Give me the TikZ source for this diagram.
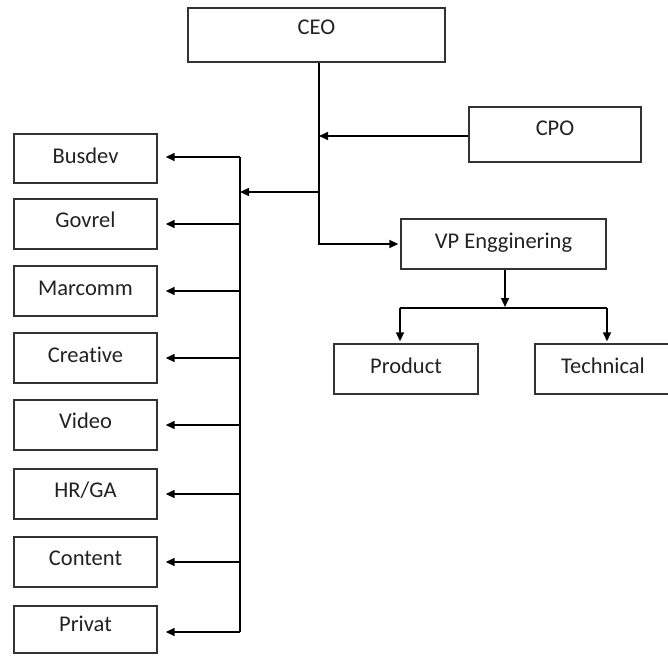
\documentclass[tikz,border=0pt]{standalone}
\usepackage{fontspec}
\setmainfont[Ligatures=NoCommon]{Carlito}
\usetikzlibrary{arrows.meta}
\definecolor{boxline}{HTML}{333333}
\definecolor{txt}{HTML}{222222}
\begin{document}
\begin{tikzpicture}[x=1pt,y=-1pt,
  orgbox/.style={draw=boxline, line width=1.4pt, rectangle, inner sep=0pt,
    font=\fontsize{22.5}{26}\selectfont, text=txt, text height=14pt, text depth=6pt},
  conn/.style={line width=1.5pt, draw=black},
  arr/.style={conn, -{Triangle[length=9pt,width=8pt]}}]
\useasboundingbox (0,0) rectangle (668,655);
\clip (0,0) rectangle (668,655);
\fill[white] (0,0) rectangle (668,655);
% top
\node[orgbox, minimum width=257pt, minimum height=54pt, text depth=14pt] (ceo) at (316.5,35) {CEO};
\node[orgbox, minimum width=172pt, minimum height=55pt, text depth=12pt] (cpo) at (555,134.5) {CPO};
\node[orgbox, minimum width=205pt, minimum height=50pt, text depth=5pt] (vp) at (503.5,244) {VP Engginering};
\node[orgbox, minimum width=144pt, minimum height=50pt] (product) at (406,369) {Product};
\node[orgbox, minimum width=140pt, minimum height=50pt] (technical) at (605,369) {\hspace*{-4pt}Technical};
% left column
\node[orgbox, minimum width=143pt, minimum height=49pt, text depth=4pt] (busdev) at (85.5,158.5) {Busdev};
\node[orgbox, minimum width=143pt, minimum height=50pt, text depth=7pt] (govrel) at (85.5,224) {Govrel};
\node[orgbox, minimum width=143pt, minimum height=50pt] (marcomm) at (85.5,291) {Marcomm};
\node[orgbox, minimum width=143pt, minimum height=50pt] (creative) at (85.5,358) {Creative};
\node[orgbox, minimum width=143pt, minimum height=50pt, text depth=8pt] (video) at (85.5,425) {Video};
\node[orgbox, minimum width=143pt, minimum height=50pt, text depth=7pt] (hrga) at (85.5,494) {HR/GA};
\node[orgbox, minimum width=143pt, minimum height=50pt, text depth=7pt] (content) at (85.5,562) {Content};
\node[orgbox, minimum width=143pt, minimum height=47pt, text depth=10pt] (privat) at (85.5,629.5) {Privat};
% junction coordinates
\coordinate (ctr) at (319,244);
\coordinate (cpoy) at (319,136);
\coordinate (lj) at (319,192);
\coordinate (trunkTop) at (240,157);
\coordinate (trunkBot) at (240,632);
\coordinate (trunkIn) at (240,192);
\coordinate (vpj) at (505,308);
\coordinate (pj) at (400,308);
\coordinate (tj) at (607,308);
% CEO trunk
\draw[arr, shorten >=2pt] (ctr |- ceo.south) -- (ctr) -- (vp.west);
\draw[arr] (cpo.west |- cpoy) -- (cpoy);
\draw[arr] (lj) -- (trunkIn);
\draw[conn] (trunkTop) -- (trunkBot);
% left branches
\draw[arr, shorten >=8pt] (trunkTop) -- (trunkTop -| busdev.east);
\draw[arr, shorten >=8pt] (trunkTop |- govrel.east) -- (govrel.east);
\draw[arr, shorten >=8pt] (trunkTop |- marcomm.east) -- (marcomm.east);
\draw[arr, shorten >=8pt] (trunkTop |- creative.east) -- (creative.east);
\draw[arr, shorten >=8pt] (trunkTop |- video.east) -- (video.east);
\draw[arr, shorten >=8pt] (trunkTop |- hrga.east) -- (hrga.east);
\draw[arr, shorten >=8pt] (trunkTop |- content.east) -- (content.east);
\draw[arr, shorten >=8pt] (trunkBot) -- (trunkBot -| privat.east);
% VP branches
\draw[arr, shorten >=1pt] (vpj |- vp.south) -- (vpj);
\draw[conn] (pj) -- (tj);
\draw[arr, shorten >=2pt] (pj) -- (pj |- product.north);
\draw[arr, shorten >=2pt] (tj) -- (tj |- technical.north);
\end{tikzpicture}
\end{document}
